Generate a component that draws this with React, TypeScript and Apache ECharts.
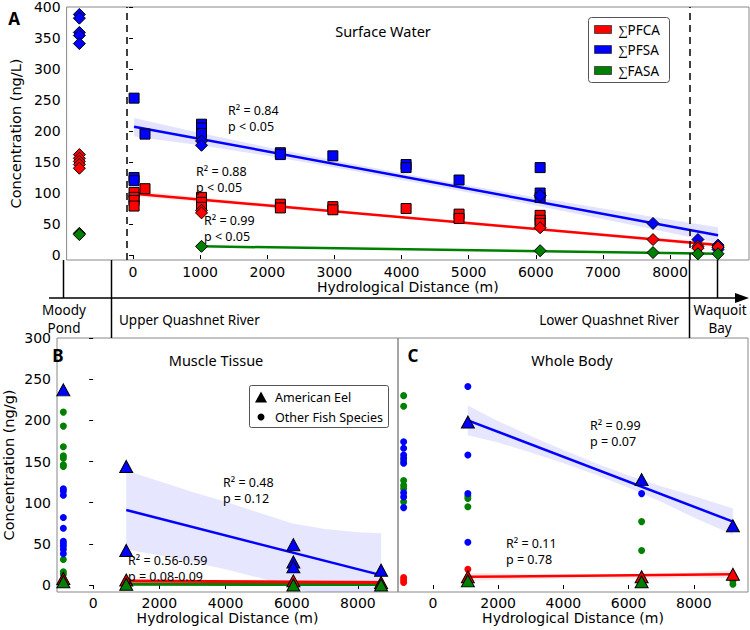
import React, { useEffect, useRef } from "react";
import * as echarts from "echarts";

// ---------- tick values ----------
const xTicksA = [0, 1000, 2000, 3000, 4000, 5000, 6000, 7000, 8000];
const yTicksA = [0, 50, 100, 150, 200, 250, 300, 350, 400];
const xTicksBC = [0, 2000, 4000, 6000, 8000];
const yTicksBC = [0, 50, 100, 150, 200, 250, 300];

// ---------- Panel A: Surface Water (ng/L) ----------
const pfsaSquaresA = [
  [15, 253], [15, 125], [15, 120], [178, 195], [1020, 211], [1020, 205], [1020, 196],
  [2195, 165], [2195, 162], [2977, 160], [4068, 146], [4068, 141], [4857, 121],
  [6065, 141], [6065, 100], [6065, 93],
];
const pfsaDiamondsA = [
  [-800, 388], [-800, 382], [-800, 359], [-800, 354], [-800, 341], [1020, 184], [1020, 177],
  [6065, 96], [7747, 51], [8416, 25], [8716, 16], [8716, 12], [8716, 9],
];
const pfcaSquaresA = [
  [15, 101], [15, 93], [15, 88], [15, 79], [178, 107], [1020, 93], [1020, 85], [1020, 77],
  [2195, 82], [2195, 76], [2977, 78], [2977, 73], [4068, 75], [4857, 66], [4857, 59],
  [6065, 64], [6065, 56], [6065, 51],
];
const pfcaDiamondsA = [
  [-800, 162], [-800, 156], [-800, 151], [-800, 146], [-800, 140], [1020, 72], [1020, 68],
  [6065, 44], [7747, 25], [8416, 14], [8416, 11], [8716, 13],
];
const fasaDiamondsA = [[-800, 35], [-800, 33], [1020, 14], [6065, 7], [7747, 4], [8416, 2], [8716, 2]];

const fitPfsaA = [[15, 207], [8716, 32]];
const fitPfcaA = [[15, 99], [8716, 16]];
const fitFasaA = [[1020, 14], [8716, 2]];

const bandXA = [15, 1000, 2000, 3000, 4000, 5000, 6000, 7000, 8000, 8716];
const pfsaUpA = [221, 197, 174, 153, 132, 112, 93, 75, 57, 45];
const pfsaLoA = [191, 177, 160, 141, 121, 101, 80, 58, 36, 19];
const pfcaUpA = [104, 93, 83, 73, 63, 54, 44, 35, 26, 20];
const pfcaLoA = [94, 86, 77, 68, 59, 49, 40, 30, 20, 12];

// ---------- Panel B: Muscle Tissue (ng/g) ----------
const otherGreenB = [[-900, 210], [-900, 193], [-900, 168], [-900, 157], [-900, 154], [-900, 146], [-900, 144], [-900, 31], [-900, 16], [-900, 13]];
const otherBlueB = [[-900, 117], [-900, 114], [-900, 109], [-900, 82], [-900, 69], [-900, 53], [-900, 50], [-900, 47], [-900, 43], [-900, 38]];
const eelBlueB = [[-900, 237], [1000, 144], [1000, 42], [6050, 49], [6050, 28], [6050, 22], [8700, 18]];
const eelRedB = [[-900, 8], [1000, 6], [6050, 5], [8700, 3]];
const eelGreenB = [[-900, 4], [1000, 1], [6050, 0], [8700, 0]];
const fitBlueB = [[1000, 91], [8700, 12]];
const fitRedB = [[1000, 5], [8700, 3]];
const fitGreenB = [[1000, 1], [8700, 0.5]];
const bandXB = [1000, 2000, 3000, 4000, 5000, 6000, 7000, 8000, 8700];
const blueUpB = [139, 126, 113, 101, 88, 75, 68, 64, 63];
const blueLoB = [43, 36, 28, 19, 9, -3, -15, -30, -40];
const redUpB = [8, 7, 6, 6, 6, 5, 5, 6, 6];
const redLoB = [3, 3, 3, 3, 2, 2, 1, 1, 0];

// ---------- Panel C: Whole Body (ng/g) ----------
const otherGreenC = [[-900, 230], [-900, 217], [-900, 151], [-900, 127], [-900, 121], [-900, 117], [-900, 101], [1070, 108], [1070, 105], [1070, 95], [6400, 77], [6400, 42], [9200, 5], [9200, 1]];
const otherBlueC = [[-900, 174], [-900, 166], [-900, 158], [-900, 154], [-900, 148], [-900, 112], [-900, 107], [-900, 94], [1070, 241], [1070, 158], [1070, 111], [1070, 52], [6400, 111]];
const otherRedC = [[-900, 9], [-900, 6], [-900, 3], [1070, 19]];
const eelBlueC = [[1070, 198], [6400, 128], [9200, 72]];
const eelRedC = [[1070, 10], [6400, 10], [9200, 13]];
const eelGreenC = [[1070, 5], [6400, 4]];
const fitBlueC = [[1070, 200], [9200, 77]];
const fitRedC = [[1070, 10], [9200, 13]];
const bandXC = [1070, 2000, 3000, 4000, 5000, 6000, 7000, 8000, 9200];
const blueUpC = [218, 199, 181, 164, 148, 133, 120, 108, 93];
const blueLoC = [182, 173, 161, 148, 134, 118, 101, 82, 61];
const redUpC = [15, 14, 13, 13, 13, 13, 14, 15, 18];
const redLoC = [5, 6, 7, 8, 8, 8, 8, 9, 8];

// ---------- layout ----------
const GA = { left: 50, top: 5, width: 699, height: 255 };
const XA = { min: -990, max: 9177 };
const GB = { left: 49, top: 338, width: 349, height: 254 };
const XB = { min: -1092, max: 9211 };
const GC = { left: 398, top: 338, width: 350, height: 254 };
const XC = { min: -1073, max: 9663 };
const pxA = (x: number) => GA.left + ((x - XA.min) / (XA.max - XA.min)) * GA.width;

const RED = "#ff0000";
const BLUE = "#0000ff";
const GREEN = "#008000";
const TICK_FONT = "DejaVu Sans";
const ANN_FONT = "Noto Sans";

const sc = (idx: number, data: number[][], symbol: string, size: any, color: string, border = true, z = 4) => ({
  type: "scatter",
  xAxisIndex: idx,
  yAxisIndex: idx,
  data,
  symbol,
  symbolSize: size,
  z,
  silent: true,
  itemStyle: { color, borderColor: border ? "#000" : color, borderWidth: border ? 1 : 0, opacity: 1 },
});

const ln = (idx: number, data: number[][], color: string, width = 2.5, extra: any = {}) => ({
  type: "line",
  xAxisIndex: idx,
  yAxisIndex: idx,
  data,
  symbol: "none",
  showSymbol: false,
  silent: true,
  z: 3,
  lineStyle: { color, width },
  ...extra,
});

const band = (idx: number, xs: number[], lo: number[], hi: number[], fill: string) => {
  const data = xs.map((x, i) => [x, lo[i], hi[i]]);
  return {
    type: "custom",
    xAxisIndex: idx,
    yAxisIndex: idx,
    clip: true,
    silent: true,
    z: 1,
    data,
    encode: { x: 0, y: [1, 2] },
    renderItem: (params: any, api: any) => {
      if (params.dataIndex !== 0) return null;
      const up = data.map((d) => api.coord([d[0], d[2]]));
      const dn = data.slice().reverse().map((d) => api.coord([d[0], d[1]]));
      return { type: "polygon", shape: { points: up.concat(dn) }, style: { fill } };
    },
  };
};

const plain = (v: number) => String(v);

const xAx = (gi: number, X: any, ticks: number[], margin: number, gap: number) => ({
  gridIndex: gi,
  type: "value",
  min: X.min,
  max: X.max,
  splitLine: { show: false },
  axisLine: { show: false },
  axisTick: { show: true, customValues: ticks, length: 4, lineStyle: { color: "#000" } },
  axisLabel: { customValues: ticks, formatter: plain, margin, color: "#000", fontSize: 14, fontFamily: TICK_FONT },
  name: "Hydrological Distance (m)",
  nameLocation: "middle",
  nameGap: gap,
  nameTextStyle: { color: "#000", fontSize: 14, fontFamily: TICK_FONT },
});

const yAx = (gi: number, min: number, max: number, ticks: number[], name: string, showLabels = true) => ({
  gridIndex: gi,
  type: "value",
  min,
  max,
  splitLine: { show: false },
  axisLine: { show: false },
  axisTick: { show: showLabels, customValues: ticks, length: 4, lineStyle: { color: "#000" } },
  axisLabel: { show: showLabels, customValues: ticks, formatter: plain, margin: 6, color: "#000", fontSize: 14, fontFamily: TICK_FONT },
  name,
  nameLocation: "middle",
  nameRotate: 90,
  nameGap: 41,
  nameTextStyle: { color: "#000", fontSize: 14.5, fontFamily: TICK_FONT },
});

const txt = (text: string, x: number, y: number, size = 12, align = "left", extra: any = {}) => ({
  type: "text",
  x,
  y,
  z: 100,
  silent: true,
  style: { text, fill: "#000", fontSize: size, fontFamily: ANN_FONT, align, verticalAlign: "middle", ...extra },
});

const stat = (text: string, x: number, yTop: number) =>
  txt(text, x, yTop, 12.5, "left", { verticalAlign: "top", lineHeight: 16 });

const vline = (x: number, y1: number, y2: number) => ({
  type: "line",
  z: 100,
  silent: true,
  shape: { x1: x, y1, x2: x, y2 },
  style: { stroke: "#000", lineWidth: 1.5 },
});

function buildOption() {
  const xMoody = Math.round(pxA(-800)) + 0.5;
  const xUpper = Math.round(pxA(-100)) + 0.5;
  const xLower = Math.round(pxA(8300)) + 0.5;
  const xBay = Math.round(pxA(8716)) + 0.5;
  const bottomA = GA.top + GA.height;
  const arrowY = 298;
  const bandBottom = GB.top;

  const graphic: any[] = [
    vline(xMoody, bottomA, arrowY),
    vline(xUpper, bottomA, bandBottom),
    vline(xLower, bottomA, bandBottom),
    vline(xBay, bottomA, arrowY),
    { type: "line", z: 100, silent: true, shape: { x1: 49, y1: arrowY, x2: 738, y2: arrowY }, style: { stroke: "#000", lineWidth: 1.5 } },
    { type: "polygon", z: 100, silent: true, shape: { points: [[749, arrowY], [735, arrowY - 5], [735, arrowY + 5]] }, style: { fill: "#000" } },
    txt("Moody\nPond", 64, 319, 13.5, "center", { lineHeight: 18 }),
    txt("Upper Quashnet River", 119, 320, 13.5, "left"),
    txt("Lower Quashnet River", 679, 320, 13.5, "right"),
    txt("Waquoit\nBay", 720, 319, 13.5, "center", { lineHeight: 18 }),
    txt("Surface Water", 383, 31, 14.5, "center"),
    txt("Muscle Tissue", 216, 360, 14.5, "center"),
    txt("Whole Body", 572, 360, 14.5, "center"),
    txt("A", 14, 18, 17, "center", { fontWeight: "bold" }),
    txt("B", 58, 355, 17, "center", { fontWeight: "bold" }),
    txt("C", 413, 355, 17, "center", { fontWeight: "bold" }),
    stat("R² = 0.84\np < 0.05", 228, 102),
    stat("R² = 0.88\np < 0.05", 196, 163),
    stat("R² = 0.99\np < 0.05", 204, 212),
    stat("R² = 0.48\np = 0.12", 223, 474),
    stat("R² = 0.56-0.59\np = 0.08-0.09", 128, 552),
    stat("R² = 0.99\np = 0.07", 590, 417),
    stat("R² = 0.11\np = 0.78", 506, 535),
    // legend A
    { type: "rect", z: 99, silent: true, shape: { x: 588.5, y: 17.5, width: 81, height: 65, r: 3 }, style: { fill: "#fff", stroke: "#555", lineWidth: 1 } },
    { type: "rect", z: 100, silent: true, shape: { x: 594.5, y: 25.5, width: 17, height: 8 }, style: { fill: RED, stroke: "#333", lineWidth: 0.8 } },
    { type: "rect", z: 100, silent: true, shape: { x: 594.5, y: 45.5, width: 17, height: 8 }, style: { fill: BLUE, stroke: "#333", lineWidth: 0.8 } },
    { type: "rect", z: 100, silent: true, shape: { x: 594.5, y: 66.5, width: 17, height: 8 }, style: { fill: GREEN, stroke: "#333", lineWidth: 0.8 } },
    txt("∑PFCA", 618, 29.5, 13.5),
    txt("∑PFSA", 618, 49.5, 13.5),
    txt("∑FASA", 618, 70.5, 13.5),
    // legend B
    { type: "rect", z: 99, silent: true, shape: { x: 249.5, y: 385.5, width: 139, height: 42, r: 2 }, style: { fill: "#fff", stroke: "#555", lineWidth: 1 } },
    { type: "polygon", z: 100, silent: true, shape: { points: [[261, 391.5], [267, 402.5], [255, 402.5]] }, style: { fill: "#000" } },
    { type: "circle", z: 100, silent: true, shape: { cx: 261, cy: 417, r: 3.5 }, style: { fill: "#000" } },
    txt("American Eel", 275, 397.5, 12.5),
    txt("Other Fish Species", 275, 417.5, 12.5),
  ];

  return {
    animation: false,
    backgroundColor: "#fff",
    grid: [
      { ...GA, show: true, borderColor: "#888", borderWidth: 1, backgroundColor: "transparent" },
      { ...GB, show: true, borderColor: "#888", borderWidth: 1, backgroundColor: "transparent" },
      { ...GC, show: true, borderColor: "#888", borderWidth: 1, backgroundColor: "transparent" },
    ],
    xAxis: [
      xAx(0, XA, xTicksA, 5, 20),
      xAx(1, XB, xTicksBC, 4, 19),
      xAx(2, XC, xTicksBC, 4, 19),
    ],
    yAxis: [
      yAx(0, -8, 400, yTicksA, "Concentration (ng/L)"),
      yAx(1, -8.5, 300, yTicksBC, "Concentration (ng/g)"),
      yAx(2, -8.5, 300, yTicksBC, "", false),
    ],
    graphic,
    series: [
      // Panel A
      band(0, bandXA, pfsaLoA, pfsaUpA, "rgba(80,80,255,0.16)"),
      band(0, bandXA, pfcaLoA, pfcaUpA, "rgba(255,80,80,0.14)"),
      ln(0, fitPfsaA, BLUE, 2.5, {
        markLine: {
          silent: true,
          symbol: ["none", "none"],
          label: { show: false },
          lineStyle: { color: "#000", type: [7, 5], width: 1.5 },
          data: [{ xAxis: -100 }, { xAxis: 8300 }],
        },
      }),
      ln(0, fitPfcaA, RED),
      ln(0, fitFasaA, GREEN),
      sc(0, pfsaSquaresA, "rect", 10, BLUE),
      sc(0, pfsaDiamondsA, "diamond", [12, 12], BLUE),
      sc(0, pfcaSquaresA, "rect", 10, RED),
      sc(0, pfcaDiamondsA, "diamond", [12, 12], RED),
      sc(0, fasaDiamondsA, "diamond", [12, 12], GREEN),
      // Panel B
      band(1, bandXB, blueLoB, blueUpB, "rgba(80,80,255,0.14)"),
      band(1, bandXB, redLoB, redUpB, "rgba(255,80,80,0.14)"),
      ln(1, fitBlueB, BLUE),
      ln(1, fitGreenB, GREEN, 3),
      ln(1, fitRedB, RED, 3),
      sc(1, otherGreenB, "circle", 7, GREEN, false),
      sc(1, otherBlueB, "circle", 7, BLUE, false),
      sc(1, eelBlueB, "triangle", [13, 12], BLUE, true, 5),
      sc(1, eelRedB, "triangle", [13, 12], RED, true, 5),
      sc(1, eelGreenB, "triangle", [13, 12], GREEN, true, 5),
      // Panel C
      band(2, bandXC, blueLoC, blueUpC, "rgba(80,80,255,0.14)"),
      band(2, bandXC, redLoC, redUpC, "rgba(255,80,80,0.14)"),
      ln(2, fitBlueC, BLUE),
      ln(2, fitRedC, RED),
      sc(2, otherGreenC, "circle", 7, GREEN, false),
      sc(2, otherBlueC, "circle", 7, BLUE, false),
      sc(2, otherRedC, "circle", 7, RED, false),
      sc(2, eelBlueC, "triangle", [13, 12], BLUE, true, 5),
      sc(2, eelRedC, "triangle", [13, 12], RED, true, 5),
      sc(2, eelGreenC, "triangle", [13, 12], GREEN, true, 5),
    ],
  };
}

export default function App() {
  const ref = useRef<HTMLDivElement>(null);
  useEffect(() => {
    document.body.style.margin = "0";
    const chart = echarts.init(ref.current as HTMLDivElement, null, { renderer: "svg" });
    chart.setOption(buildOption() as any);
    return () => chart.dispose();
  }, []);
  return <div ref={ref} style={{ position: "absolute", left: 0, top: 0, width: 750, height: 630 }} />;
}
